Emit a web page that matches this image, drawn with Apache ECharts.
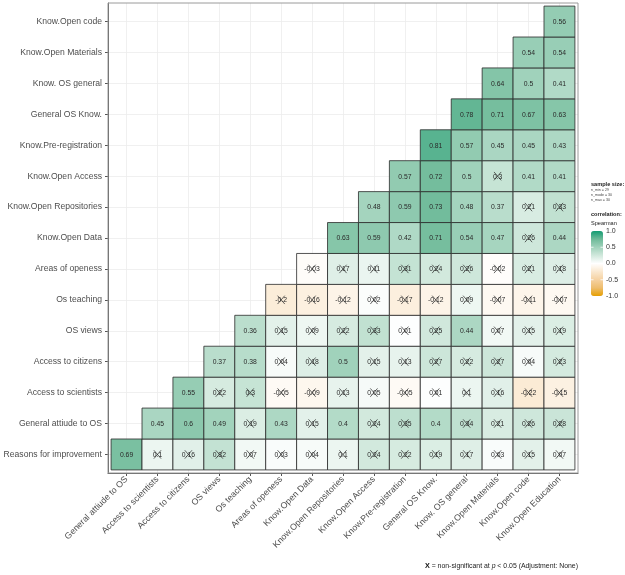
<!DOCTYPE html>
<html>
<head>
<meta charset="utf-8">
<script src="https://cdn.jsdelivr.net/npm/echarts@6/dist/echarts.min.js"></script>
<style>html,body{margin:0;padding:0;background:#fff;}#c{width:625px;height:575px;}</style>
</head>
<body>
<div id="c"></div>
<script>
// Columns (x axis, left to right)
const xLabels = ['General attiude to OS','Access to scientists','Access to citizens','OS views','Os teaching','Areas of openess','Know.Open Data','Know.Open Repositories','Know.Open Access','Know.Pre-registration','General OS Know.','Know. OS general','Know.Open Materials','Know.Open code','Know.Open Education'];
// Rows (y axis, bottom to top)
const yLabels = ['Reasons for improvement','General attiude to OS','Access to scientists','Access to citizens','OS views','Os teaching','Areas of openess','Know.Open Data','Know.Open Repositories','Know.Open Access','Know.Pre-registration','General OS Know.','Know. OS general','Know.Open Materials','Know.Open code'];
// Correlations: row r starts at column r
const rowReasons      = [0.69,0.1,0.16,0.32,0.07,0.03,0.04,0.1,0.24,0.22,0.19,0.17,0.03,0.15,0.07];
const rowAttitude     = [0.45,0.6,0.49,0.19,0.43,0.15,0.4,0.24,0.35,0.4,0.34,0.21,0.26,0.28];
const rowScientists   = [0.55,0.22,0.3,-0.05,-0.09,0.13,0.05,-0.05,0.01,0.1,0.16,-0.22,-0.15];
const rowCitizens     = [0.37,0.38,0.04,0.18,0.5,0.15,0.13,0.27,0.22,0.27,0.04,0.23];
const rowViews        = [0.36,0.15,0.09,0.22,0.33,0.01,0.25,0.44,0.07,0.15,0.19];
const rowTeaching     = [-0.2,-0.16,-0.12,0.02,-0.17,-0.12,0.09,-0.07,-0.11,-0.07];
const rowAreas        = [-0.03,0.17,0.11,0.31,0.24,0.26,-0.02,0.21,0.18];
const rowOpenData     = [0.63,0.59,0.42,0.71,0.54,0.47,0.26,0.44];
const rowRepos        = [0.48,0.59,0.73,0.48,0.37,0.21,0.33];
const rowOpenAccess   = [0.57,0.72,0.5,0.3,0.41,0.41];
const rowPrereg       = [0.81,0.57,0.45,0.45,0.43];
const rowGeneralKnow  = [0.78,0.71,0.67,0.63];
const rowOSGeneral    = [0.64,0.5,0.41];
const rowMaterials    = [0.54,0.54];
const rowCode         = [0.56];
const corrRows = [rowReasons,rowAttitude,rowScientists,rowCitizens,rowViews,rowTeaching,rowAreas,rowOpenData,rowRepos,rowOpenAccess,rowPrereg,rowGeneralKnow,rowOSGeneral,rowMaterials,rowCode];
// Non-significant (crossed) flags, same layout
const nsRows = [
  [0,1,1,1,1,1,1,1,1,1,1,1,1,1,1],
  [0,0,0,1,0,1,0,1,1,0,1,1,1,1],
  [0,1,1,1,1,1,1,1,1,1,1,1,1],
  [0,0,1,1,0,1,1,1,1,1,1,1],
  [0,1,1,1,1,1,1,0,1,1,1],
  [1,1,1,1,1,1,1,1,1,1],
  [1,1,1,1,1,1,1,1,1],
  [0,0,0,0,0,0,1,0],
  [0,0,0,0,0,1,1],
  [0,0,0,1,0,0],
  [0,0,0,0,0],
  [0,0,0,0],
  [0,0,0],
  [0,0],
  [0]
];
const legendTicks = [1.0, 0.5, 0.0, -0.5, -1.0];

const data = [];
corrRows.forEach((row, r) => {
  row.forEach((v, k) => { data.push([r + k, r, v, nsRows[r][k]]); });
});

const ticks = xLabels.map((_, i) => i);
const FONT = 'Liberation Sans, Arial, sans-serif';

const chart = echarts.init(document.getElementById('c'), null, {renderer: 'canvas'});

const gLeft = 108, gTop = 3, gW = 470, gH = 470;
const barLeft = 591, barTop = 231, barW = 12, barH = 65;

const graphics = [
  {type:'rect', z: 100, silent:true, shape:{x:gLeft, y:gTop, width:gW, height:gH}, style:{fill:'none', stroke:'#9a9a9a', lineWidth:1}},
  {type:'text', left: 591, top: 181, style:{text:'sample size:', font:'bold 5.6px ' + FONT, fill:'#222'}},
  {type:'text', left: 591, top: 188, style:{text:'n_min = 29', font:'3.6px ' + FONT, fill:'#444'}},
  {type:'text', left: 591, top: 193, style:{text:'n_mode = 30', font:'3.6px ' + FONT, fill:'#444'}},
  {type:'text', left: 591, top: 198, style:{text:'n_max = 30', font:'3.6px ' + FONT, fill:'#444'}},
  {type:'text', left: 591, top: 211, style:{text:'correlation:', font:'bold 5.6px ' + FONT, fill:'#222'}},
  {type:'text', left: 591, top: 220, style:{text:'Spearman', font:'5.6px ' + FONT, fill:'#222'}},
  {type:'text', right: 625 - 578, top: 563, style:{
    rich: {
      b: {font:'bold 7.2px ' + FONT, fill:'#111'},
      n: {font:'6.9px ' + FONT, fill:'#222'},
      i: {font:'italic 6.9px ' + FONT, fill:'#222'}
    },
    text: '{b|X}{n| = non-significant at }{i|p}{n| < 0.05 (Adjustment: None)}'
  }}
];
legendTicks.forEach(t => {
  const y = barTop + (1 - (t + 1) / 2) * barH;
  graphics.push({type:'text', x: 606, y: y, style:{text: t.toFixed(1), font:'7px ' + FONT, fill:'#333', textVerticalAlign:'middle'}});
  if (Math.abs(t) < 1) {
    graphics.push({type:'line', z:200, shape:{x1:barLeft, y1:y, x2:barLeft + 2.5, y2:y}, style:{stroke:'#fff', lineWidth:0.8}});
    graphics.push({type:'line', z:200, shape:{x1:barLeft + barW - 2.5, y1:y, x2:barLeft + barW, y2:y}, style:{stroke:'#fff', lineWidth:0.8}});
  }
});

const option = {
  backgroundColor: '#fff',
  animation: false,
  grid: {left: gLeft, top: gTop, width: gW, height: gH, show: false},
  xAxis: {
    type: 'value', min: -0.6, max: 14.6,
    axisLine: {show: true, onZero: false, lineStyle: {color: '#555', width: 1}},
    axisTick: {show: true, length: 3, customValues: ticks, lineStyle: {color: '#555'}},
    axisLabel: {customValues: ticks, rotate: 45, margin: 5, fontSize: 8.8, fontFamily: FONT, color: '#4d4d4d',
      formatter: v => xLabels[Math.round(v)] || ''},
    splitLine: {show: true, lineStyle: {color: '#ececec', width: 0.8}}
  },
  yAxis: {
    type: 'value', min: -0.6, max: 14.6,
    axisLine: {show: true, onZero: false, lineStyle: {color: '#555', width: 1}},
    axisTick: {show: true, length: 3, customValues: ticks, lineStyle: {color: '#555'}},
    axisLabel: {customValues: ticks, margin: 6, fontSize: 8.6, fontFamily: FONT, color: '#4d4d4d',
      formatter: v => yLabels[Math.round(v)] || ''},
    splitLine: {show: true, lineStyle: {color: '#ececec', width: 0.8}}
  },
  visualMap: {
    type: 'continuous', min: -1, max: 1, dimension: 2, seriesIndex: 0,
    orient: 'vertical', left: barLeft, top: barTop, itemWidth: barW, itemHeight: barH,
    padding: 0, text: null, showLabel: false, calculable: false, hoverLink: false,
    textStyle: {fontSize: 0},
    inRange: {color: ['#E69F00','#EEBD6E','#F5D1A0','#FAE8CF','#FFFFFF','#D0E8DC','#A0D2BB','#6EBA99','#129C72']}
  },
  series: [{
    type: 'custom',
    coordinateSystem: 'cartesian2d',
    encode: {x: 0, y: 1},
    data: data,
    renderItem: function (params, api) {
      const x = api.value(0), y = api.value(1), v = api.value(2), ns = api.value(3);
      const p0 = api.coord([x - 0.5, y + 0.5]);
      const p1 = api.coord([x + 0.5, y - 0.5]);
      const c = api.coord([x, y]);
      const label = String(Math.round(v * 100) / 100);
      const children = [
        {type: 'rect', shape: {x: p0[0], y: p0[1], width: p1[0] - p0[0], height: p1[1] - p0[1]},
          style: {fill: api.visual('color'), stroke: '#2a2a2a', lineWidth: 0.8}},
        {type: 'text', x: c[0], y: c[1] + 0.5, style: {text: label, font: '6.8px ' + FONT, fill: '#2a2a2a', textAlign: 'center', textVerticalAlign: 'middle'}}
      ];
      if (ns) {
        const dx = 3.6, dy = 4.2;
        children.push({type: 'line', shape: {x1: c[0] - dx, y1: c[1] - dy, x2: c[0] + dx, y2: c[1] + dy}, style: {stroke: '#222', lineWidth: 0.7}});
        children.push({type: 'line', shape: {x1: c[0] - dx, y1: c[1] + dy, x2: c[0] + dx, y2: c[1] - dy}, style: {stroke: '#222', lineWidth: 0.7}});
      }
      return {type: 'group', children: children};
    }
  }],
  graphic: graphics
};
chart.setOption(option);
</script>
</body>
</html>
